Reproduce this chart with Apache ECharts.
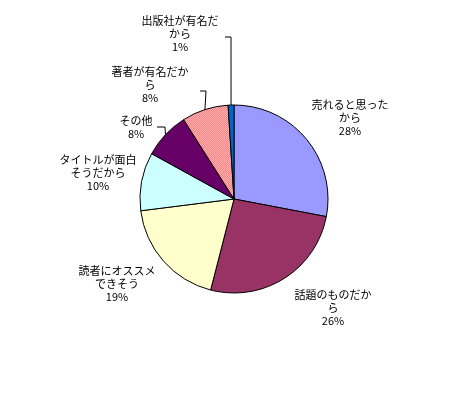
<!DOCTYPE html>
<html>
<head>
<meta charset="utf-8">
<title>pie</title>
<script src="https://cdn.jsdelivr.net/npm/echarts@6/dist/echarts.min.js"></script>
<style>
  html, body { margin: 0; padding: 0; background: #fff; }
  #chart { width: 469px; height: 400px; }
</style>
</head>
<body>
<div id="chart"></div>
<script>
// 項目名（表示どおりの改行入り）
var names = [
    '売れると思った\nから',
    '話題のものだか\nら',
    '読者にオススメ\nできそう',
    'タイトルが面白\nそうだから',
    'その他',
    '著者が有名だか\nら',
    '出版社が有名だ\nから'
];
// 割合（%）
var values = [28, 26, 19, 10, 8, 8, 1];

(function () {
    var myChart = echarts.init(document.getElementById('chart'));

    // 著者の扇形は市松模様
    var pat = document.createElement('canvas');
    pat.width = 2;
    pat.height = 2;
    var ctx = pat.getContext('2d');
    ctx.fillStyle = '#ff8080';
    ctx.fillRect(0, 0, 2, 2);
    ctx.fillStyle = '#ffb4b4';
    ctx.fillRect(0, 0, 1, 1);
    ctx.fillRect(1, 1, 1, 1);

    var colors = ['#9999ff', '#993366', '#ffffcc', '#ccffff', '#660066',
        { image: pat, repeat: 'repeat' }, '#0066cc'];

    // ラベルの中心位置
    var labelPos = [[350, 118], [333, 308], [117, 284], [98, 173], [136, 127], [150, 85], [180, 34]];
    // 引き出し線の折れ点（null は線なし）
    var linePts = [null, null, null, null,
        [[165, 127], [157, 127]],
        [[206, 91], [200, 91]],
        [[231, 37], [225, 37]]];

    var data = [];
    for (var i = 0; i < values.length; i++) {
        data.push({
            name: names[i],
            value: values[i],
            itemStyle: { color: colors[i] },
            labelLine: { show: linePts[i] !== null }
        });
    }

    var option = {
        animation: false,
        series: [
            {
                type: 'pie',
                center: [234, 199],
                radius: 94,
                startAngle: 90,
                clockwise: true,
                avoidLabelOverlap: false,
                itemStyle: {
                    borderColor: '#000',
                    borderWidth: 1
                },
                label: {
                    show: true,
                    position: 'outside',
                    color: '#000',
                    fontFamily: '"Noto Sans CJK JP", sans-serif',
                    fontSize: 11,
                    lineHeight: 13,
                    align: 'center',
                    formatter: '{b}\n{c}%'
                },
                labelLine: {
                    show: false,
                    lineStyle: { color: '#000', width: 1 }
                },
                labelLayout: function (params) {
                    var i = params.dataIndex;
                    var res = {
                        x: labelPos[i][0],
                        y: labelPos[i][1],
                        align: 'center',
                        verticalAlign: 'middle'
                    };
                    if (linePts[i] && params.labelLinePoints) {
                        res.labelLinePoints = [params.labelLinePoints[0]].concat(linePts[i]);
                    }
                    return res;
                },
                emphasis: { disabled: true },
                data: data
            }
        ]
    };
    myChart.setOption(option);
    window.addEventListener('resize', function () {
        myChart.resize();
    });
})();
</script>
</body>
</html>
